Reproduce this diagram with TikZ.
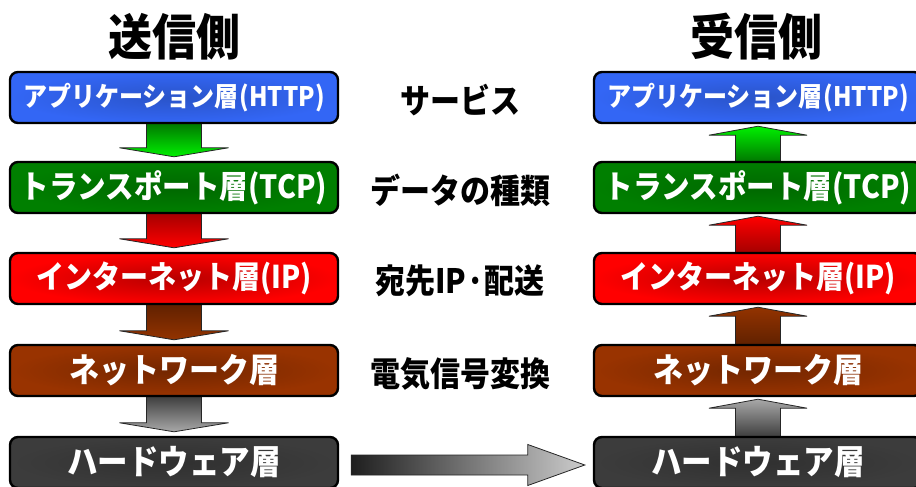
\documentclass[tikz,border=0pt]{standalone}
\usepackage{fontspec}
\usepackage{graphicx}
\newfontfamily\jp{Noto Sans CJK JP}
\usetikzlibrary{calc,backgrounds}
\definecolor{cblue}{HTML}{3366F5}
\definecolor{cgreen}{HTML}{007F00}
\definecolor{cred}{HTML}{FF0000}
\definecolor{cbrown}{HTML}{993300}
\definecolor{cgray}{HTML}{3C3C3C}
\definecolor{gDk}{HTML}{007000}
\definecolor{gLt}{HTML}{00F000}
\definecolor{rDk}{HTML}{A00000}
\definecolor{rLt}{HTML}{FF0000}
\definecolor{bDk}{HTML}{5E2000}
\definecolor{bLt}{HTML}{933300}
\definecolor{kDk}{HTML}{383838}
\definecolor{kLt}{HTML}{A8A8A8}
\newcommand\tall[1]{\scalebox{1}[1.12]{#1}}
\tikzset{
  layer/.style={draw=black, line width=2.4pt, rounded corners=8pt,
    minimum width=328pt, minimum height=51pt, inner sep=0pt,
    text=white, font=\jp\bfseries\fontsize{28}{30}\selectfont},
  arr/.style={draw=black!85, line width=0.8pt, line join=miter},
  midlabel/.style={font=\jp\bfseries\fontsize{30}{32}\selectfont, text=black},
  title/.style={font=\jp\bfseries\fontsize{44}{46}\selectfont, text=black},
}
\begin{document}
\begin{tikzpicture}[x=1pt,y=-1pt]
\useasboundingbox (0,0) rectangle (916,487);
\clip (0,0) rectangle (916,487);
% titles
\node[title] (tL) at (174,37) {\tall{送信側}};
\node[title] (tR) at (756,37) {\tall{受信側}};
% boxes
\node[layer, inner color=cblue!82!black, outer color=cblue, font=\jp\bfseries\fontsize{24}{26}\selectfont] (L1) at (174,97.5) {\tall{アプリケーション層\kern1pt(HTTP)}};
\node[layer, inner color=cgreen!82!black, outer color=cgreen, font=\jp\bfseries\fontsize{28.5}{30}\selectfont] (L2) at (174,187.5) {\tall{トランスポート層(TCP)}};
\node[layer, inner color=cred!72!black, outer color=cred] (L3) at (174,278.5) {\tall{インターネット層(IP)}};
\node[layer, inner color=cbrown!75!black, outer color=cbrown, font=\jp\bfseries\fontsize{30}{32}\selectfont] (L4) at (174,370.5) {\tall{ネットワーク層}};
\node[layer, inner color=cgray!80!black, outer color=cgray, font=\jp\bfseries\fontsize{30.5}{32}\selectfont] (L5) at (174,462.5) {\tall{ハードウェア層}};
\node[layer, inner color=cblue!82!black, outer color=cblue, font=\jp\bfseries\fontsize{24}{26}\selectfont] (R1) at (758,97.5) {\tall{アプリケーション層\kern1pt(HTTP)}};
\node[layer, inner color=cgreen!82!black, outer color=cgreen, font=\jp\bfseries\fontsize{28.5}{30}\selectfont] (R2) at (758,187.5) {\tall{トランスポート層(TCP)}};
\node[layer, inner color=cred!72!black, outer color=cred] (R3) at (758,278.5) {\tall{インターネット層(IP)}};
\node[layer, inner color=cbrown!75!black, outer color=cbrown, font=\jp\bfseries\fontsize{30}{32}\selectfont] (R4) at (758,370.5) {\tall{ネットワーク層}};
\node[layer, inner color=cgray!80!black, outer color=cgray, font=\jp\bfseries\fontsize{30.5}{32}\selectfont] (R5) at (758,462.5) {\tall{ハードウェア層}};
\begin{pgfonlayer}{background}
% left down arrows
\foreach \a/\b/\dk/\lt in {1/2/gDk/gLt, 2/3/rDk/rLt, 3/4/bDk/bLt, 4/5/kDk/kLt}{
  \shade[arr, top color=\dk, bottom color=\lt]
    ($(L\a.south)+(-27.5,-3)$) -- ($(L\b.north)+(-27.5,-13)$) -- ($(L\b.north)+(-54.5,-13)$)
    -- ($(L\b.north)+(0,-4)$) -- ($(L\b.north)+(54.5,-13)$) -- ($(L\b.north)+(27.5,-13)$)
    -- ($(L\a.south)+(27.5,-3)$) -- cycle;
}
% right up arrows
\foreach \a/\b/\dk/\lt in {1/2/gDk/gLt, 2/3/rDk/rLt, 3/4/bDk/bLt, 4/5/kDk/kLt}{
  \shade[arr, top color=\lt, bottom color=\dk]
    ($(R\b.north)+(-22.5,3)$) -- ($(R\a.south)+(-22.5,11)$) -- ($(R\a.south)+(-49,11)$)
    -- ($(R\a.south)+(0,2)$) -- ($(R\a.south)+(49,11)$) -- ($(R\a.south)+(22.5,11)$)
    -- ($(R\b.north)+(22.5,3)$) -- cycle;
}
\end{pgfonlayer}
% bottom horizontal arrow
\coordinate (hs) at ($(L5.east)+(12,2.5)$);
\coordinate (he) at ($(R5.west)+(-8,2.5)$);
\shade[arr, left color=black!88, right color=black!20]
  ($(hs)+(0,-10)$) -- ($(he)+(-57,-10)$) -- ($(he)+(-57,-20.5)$) -- (he)
  -- ($(he)+(-57,20.5)$) -- ($(he)+(-57,10)$) -- ($(hs)+(0,10)$) -- cycle;
% middle labels
\node[midlabel] (m1) at (460,100) {\tall{サービス}};
\node[midlabel] (m2) at (460,190) {\tall{データの種類}};
\node[midlabel] (m3) at (460,281) {\tall{宛先IP·配送}};
\node[midlabel] (m4) at (460,374) {\tall{電気信号変換}};
\end{tikzpicture}
\end{document}
